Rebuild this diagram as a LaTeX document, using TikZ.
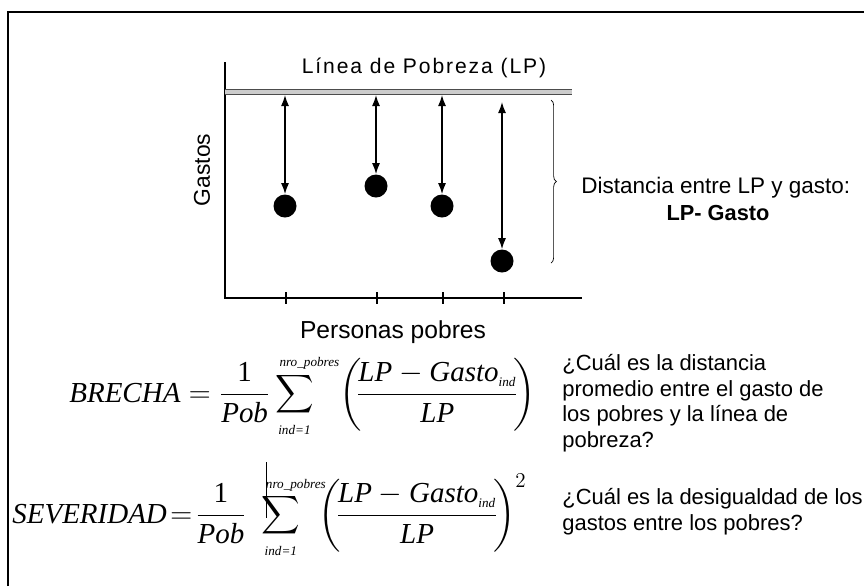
\documentclass[tikz,border=0pt]{standalone}
\usepackage{amsmath}
\usepackage[no-math]{fontspec}
\setmainfont{Liberation Sans}
\newfontfamily\formfont{Liberation Serif}
\usetikzlibrary{arrows.meta,decorations.pathreplacing}
\newcommand{\fv}[1]{\text{\formfont\itshape #1}}
\newcommand{\flim}[1]{\text{\formfont\itshape\fontsize{7.5}{9}\selectfont #1}}
\newcommand{\fsup}{\text{\makebox[0pt][l]{\hspace{-8.5pt}\formfont\itshape\fontsize{7.5}{9}\selectfont nro\_pobres}}}
\newcommand{\fsum}{\mathop{\vcenter{\hbox{\scalebox{0.88}{$\displaystyle\sum$}}}}\limits}
\tikzset{
  pobre/.style={circle,fill=black,minimum size=0.46cm,inner sep=0pt},
  dist/.style={{Latex[length=2.2mm,width=1.6mm]}-{Latex[length=2.2mm,width=1.6mm]},line width=0.8pt},
  txt/.style={font=\fontsize{12.5}{14.6}\selectfont,align=left,inner sep=0pt},
  formula/.style={font=\fontsize{16.5}{20}\selectfont,inner sep=0pt}
}

\begin{document}
\begin{tikzpicture}[x=0.02cm,y=-0.02cm]
\useasboundingbox (0,0) rectangle (864,586);
% marco
\draw[line width=1.2pt] (8,586) -- (8,12) -- (864,12);
% ejes
\coordinate (o) at (225,298);
\draw[line width=1.1pt] (225,62) -- (o) -- (582,298);
\foreach \x in {286,377,443,504}{\draw[line width=1.2pt] (\x,292) -- (\x,304);}
% linea de pobreza
\draw[line width=3pt,black!70] (225,92) -- (572,92);
\draw[line width=1.8pt,gray!40] (225,92) -- (572,92);
\node[inner sep=0pt,anchor=base,font=\fontsize{12}{14}\selectfont\addfontfeatures{LetterSpace=9}] (lp) at (424,73) {Línea de Pobreza (LP)};
% personas pobres
\node[pobre] (p1) at (285,206) {};
\node[pobre] (p2) at (376,186) {};
\node[pobre] (p3) at (442,206) {};
\node[pobre] (p4) at (502,261) {};
\coordinate (t1) at (285,95);
\coordinate (t2) at (376,95);
\coordinate (t3) at (442,95);
\coordinate (t4) at (502,102);
\foreach \i in {1,...,4}{\draw[dist] (t\i) -- (p\i.north);}
\draw[decorate,decoration={brace,amplitude=3pt}] (551,100) -- (551,263);
\node[txt,font=\fontsize{13}{15}\selectfont,rotate=90] (gastos) at (202,170) {Gastos};
\node[txt,font=\fontsize{14}{16}\selectfont] (personas) at (393,332) {Personas pobres};
\node[txt,font=\fontsize{12.8}{15}\selectfont,anchor=west] (dist) at (581,188) {Distancia entre LP y gasto:};
\node[txt,font=\fontsize{12.4}{15}\selectfont\bfseries] (lpg) at (718,213) {LP- Gasto};
% formulas
\node[formula,anchor=west] (brecha) at (69,396) {$\displaystyle \fv{BRECHA} = \frac{\text{\formfont 1}}{\fv{Pob}}\fsum_{\flim{ind=1}}^{\fsup}\mkern12mu\left(\!\frac{\fv{LP}-\fv{Gasto}_{\flim{ind}}}{\fv{LP}}\!\right)$};
\node[formula,anchor=west] (sever) at (12,516) {$\displaystyle \fv{SEVERIDAD}\!=\! \frac{\text{\formfont 1}}{\fv{Pob}}\mkern6mu\fsum_{\flim{ind=1}}^{\fsup}\mkern8mu\left(\!\frac{\fv{LP}-\fv{Gasto}_{\flim{ind}}}{\fv{LP}}\!\right)^{2}$};
\draw[thin] (266,462) -- (266,518);
\node[txt,anchor=north west] (q1) at (562,354) {¿Cuál es la distancia\\promedio entre el gasto de\\los pobres y la línea de\\pobreza?};
\node[txt,anchor=north west] (q2) at (562,488) {¿Cuál es la desigualdad de los\\gastos entre los pobres?};
\end{tikzpicture}
\end{document}
